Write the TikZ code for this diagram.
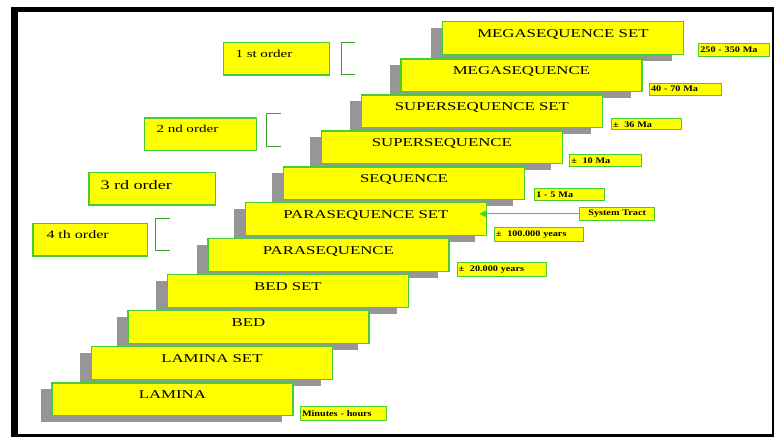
\documentclass[tikz,border=0pt]{standalone}
\usepackage{fontspec}
\setmainfont{Liberation Serif}
\newfontfamily\boxfont[FakeStretch=1.4]{Liberation Serif}
\newfontfamily\tagfont[FakeStretch=1.2]{Liberation Serif}
\usetikzlibrary{shadows,arrows.meta}
\definecolor{ylw}{RGB}{255,255,0}
\definecolor{grn}{RGB}{70,205,50}
\definecolor{shd}{RGB}{150,150,150}
\tikzset{
  bigbox/.style={draw=grn, line width=1.2pt, fill=ylw, anchor=north west,
    minimum width=241pt, inner sep=0pt, text height=15.7pt, text depth=17.1pt,
    font=\boxfont\fontsize{12}{14}\selectfont,
    general shadow={fill=shd, shadow xshift=-11pt, shadow yshift=-6.5pt}},
  ordbox/.style={draw=grn, line width=1.2pt, fill=ylw, anchor=north west,
    inner ysep=0pt, align=left},
  tagbox/.style={draw=grn, line width=1pt, fill=ylw, anchor=north west,
    inner ysep=0pt, inner xsep=1.5pt, align=left,
    font=\tagfont\bfseries\fontsize{8.5}{9}\selectfont},
  brack/.style={draw=grn!80!black, line width=0.9pt},
  garrow/.style={draw=grn, line width=1pt, -{Triangle[length=7pt,width=6pt]}},
}
\begin{document}
\begin{tikzpicture}[x=1pt,y=-1pt]
\useasboundingbox (0,0) rectangle (774,437);
% frame
\fill[white] (0,0) rectangle (774,437);
\fill[black] (11,7) rectangle (774,437);
\fill[white] (18,12) rectangle (772,434);
% stair boxes, top to bottom
\node[bigbox] (mss) at (441.8,21) {MEGASEQUENCE SET};
\node[bigbox] (ms)  at (400.3,58.3) {MEGASEQUENCE};
\node[bigbox] (sss) at (360.8,94.3) {SUPERSEQUENCE SET};
\node[bigbox] (ss)  at (320.8,130.3) {SUPERSEQUENCE};
\node[bigbox] (seq) at (282.8,166.3) {SEQUENCE};
\node[bigbox] (pss) at (244.8,201.7) {PARASEQUENCE SET};
\node[bigbox] (ps)  at (207.3,237.7) {PARASEQUENCE};
\node[bigbox] (bs)  at (166.8,274) {BED SET};
\node[bigbox] (bed) at (127.3,309.7) {BED};
\node[bigbox] (ls)  at (90.8,345.7) {LAMINA SET};
\node[bigbox] (lam) at (51.3,382.3) {LAMINA};
% order boxes
\node[ordbox, inner xsep=12.5pt, text width=81.5pt, text height=15.3pt, text depth=17pt,
  font=\boxfont\fontsize{10.8}{12}\selectfont] (o1) at (222.5,42) {1 st order};
\node[ordbox, inner xsep=12pt, text width=88pt, text height=14.7pt, text depth=18pt,
  font=\boxfont\fontsize{10.8}{12}\selectfont] (o2) at (144,117.3) {2 nd order};
\node[ordbox, inner xsep=11.7pt, text width=103.3pt, text height=16.7pt, text depth=15.6pt,
  font=\boxfont\fontsize{13}{14}\selectfont] (o3) at (88.3,172) {3 rd order};
\node[ordbox, inner xsep=13.7pt, text width=87.3pt, text height=15.6pt, text depth=17pt,
  font=\boxfont\fontsize{11.5}{13}\selectfont] (o4) at (32.3,222.7) {4 th order};
% brackets
\draw[brack] (355,42) -- (341,42) -- (341,74.3) -- (355,74.3);
\draw[brack] (281,113.3) -- (266.7,113.3) -- (266.7,146) -- (281,146);
\draw[brack] (170,218.3) -- (155.3,218.3) -- (155.3,250.7) -- (170,250.7);
% time labels
\node[tagbox, text width=67.7pt, minimum height=12.4pt] (t1) at (698.3,43.3) {250 - 350 Ma};
\node[tagbox, text width=69pt, minimum height=12pt] (t2) at (649,82.7) {40 - 70 Ma};
\node[tagbox, text width=67.3pt, minimum height=11pt] (t3) at (611,118.3) {±\ \ 36 Ma};
\node[tagbox, text width=68.7pt, minimum height=11.4pt] (t4) at (569.3,154.3) {±\ \ 10 Ma};
\node[tagbox, text width=67pt, minimum height=11.4pt] (t5) at (534.3,188.3) {1 - 5 Ma};
\node[tagbox, text width=71.7pt, minimum height=13.3pt, align=center] (st) at (579.3,206.7) {System Tract};
\node[tagbox, text width=85.7pt, minimum height=14.3pt] (t6) at (494,226.7) {±\ \ 100.000 years};
\node[tagbox, text width=86.3pt, minimum height=13.7pt] (t7) at (456.7,262.3) {±\ \ 20.000 years};
\node[tagbox, text width=82.7pt, minimum height=13.7pt] (t8) at (300,406) {Minutes - hours};
% arrow
\draw[garrow, shorten >=-8pt] (st.west) -- (pss.east |- st.west);
\end{tikzpicture}
\end{document}
